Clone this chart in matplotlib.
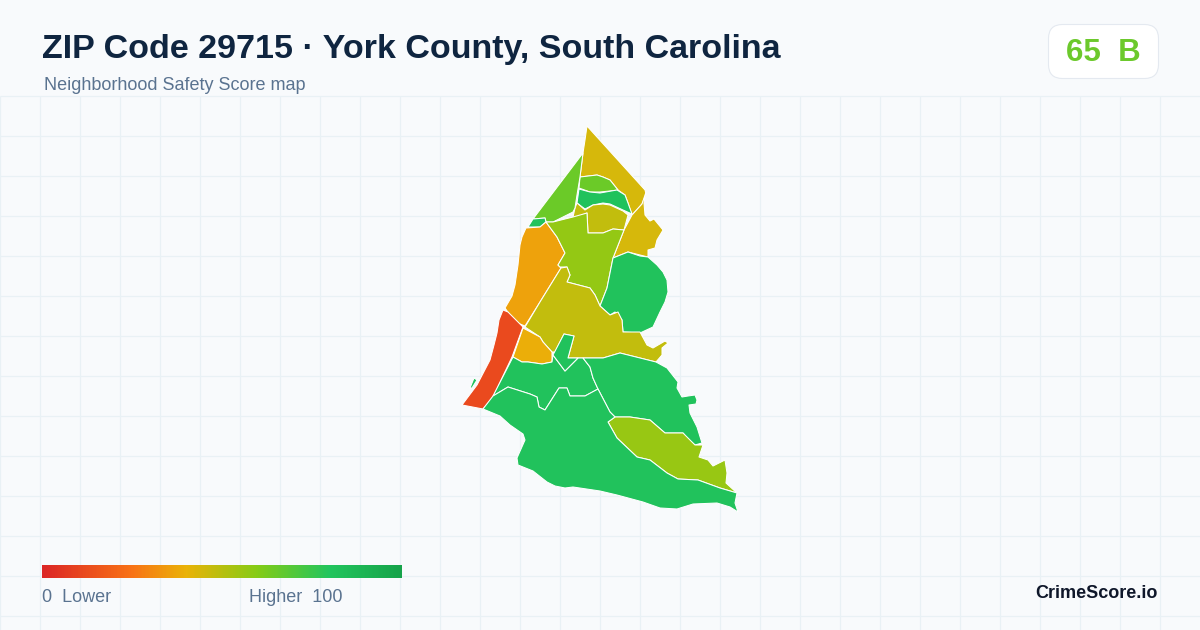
import numpy as np
import matplotlib
matplotlib.use("Agg")
import matplotlib.pyplot as plt
from matplotlib.colors import LinearSegmentedColormap
from matplotlib.patches import FancyBboxPatch, Polygon

plt.rcParams["font.family"] = ["Liberation Sans", "DejaVu Sans"]

TITLE = "ZIP Code 29715 · York County, South Carolina"
SUBTITLE = "Neighborhood Safety Score map"
GRADE = "65  B"

# neighbourhoods (x, y in image pixels) with their scores
top_gold = [(587,126),(645,190),(646,194),(642,204),(632,215),(628,203),(625,195),(618,190),(610,180),(603,177),(597,175),(580,177),(583,153),(585,140)]
north_lime = [(580,177),(597,175),(603,177),(610,180),(618,190),(610,191),(600,192),(590,192),(579,188)]
north_green = [(579,189),(590,192),(600,193),(617,190),(625,195),(628,203),(632,214),(623,210),(610,204),(603,203),(593,205),(585,209),(577,203)]
center_olive = [(585,210),(593,205),(603,204),(610,205),(623,211),(628,215),(624,230),(613,229),(603,233),(588,233),(587,213),(575,218),(573,217),(575,208),(577,203)]
east_gold = [(646,192),(644,203),(645,215),(650,221),(654,219),(663,230),(657,240),(655,248),(648,250),(648,257),(640,255),(628,252),(613,258),(624,230),(632,215),(642,204)]
west_green = [(583,153),(580,177),(577,195),(575,208),(573,212),(553,222),(546,222),(545,218),(533,219)]
sliver_green = [(533,219),(545,218),(546,222),(540,227),(528,227)]
west_orange = [(526,228),(540,227),(546,222),(557,237),(565,253),(558,265),(561,268),(540,302),(525,326),(515,322),(505,308),(512,296),(515,285),(518,265),(520,245),(522,237)]
mid_lime = [(546,222),(553,222),(573,217),(587,213),(588,233),(603,233),(613,229),(624,230),(613,258),(607,288),(600,306),(595,295),(590,288),(567,282),(570,275),(567,267),(560,267),(558,265),(565,253),(557,237)]
east_green = [(613,258),(628,252),(640,256),(648,257),(657,265),(663,272),(667,280),(668,292),(665,302),(660,312),(653,327),(640,333),(623,332),(622,320),(615,312),(610,315),(600,306),(607,288)]
big_olive = [(561,268),(567,267),(570,275),(567,282),(590,288),(595,295),(600,306),(610,315),(618,312),(622,320),(623,332),(640,332),(647,345),(653,348),(665,341),(668,343),(662,348),(662,355),(656,362),(640,358),(620,353),(603,358),(568,358),(574,336),(564,334),(555,352),(552,352),(543,342),(540,337),(525,327),(540,302)]
west_red = [(503,310),(508,312),(523,327),(512,357),(493,397),(483,409),(462,405),(477,385),(490,360),(494,345),(497,333),(499,320)]
islet_green = [(470,388),(474,378),(477,380),(472,388)]
south_amber = [(523,328),(540,337),(543,342),(552,352),(552,362),(542,364),(528,362),(522,362),(513,357)]
mid_green = [(513,357),(522,362),(528,362),(542,364),(552,362),(553,355),(565,371),(578,358),(583,358),(590,367),(593,378),(598,389),(585,396),(570,396),(567,388),(559,388),(545,410),(539,407),(537,397),(530,394),(508,387),(493,396)]
finger_green = [(553,355),(564,334),(574,336),(568,358),(578,358),(565,371)]
south_east_green = [(583,358),(603,358),(620,353),(640,358),(656,362),(667,368),(678,382),(677,388),(682,397),(688,396),(695,395),(697,400),(696,404),(689,405),(690,413),(697,427),(702,443),(695,445),(687,438),(683,433),(665,433),(650,420),(630,417),(615,417),(610,412),(598,389),(593,378),(590,367)]
south_lime = [(608,422),(615,417),(630,417),(650,420),(665,433),(683,433),(695,445),(703,445),(699,457),(708,460),(713,466),(725,460),(727,473),(726,483),(737,493),(720,488),(698,480),(678,479),(667,473),(650,460),(637,457),(617,438)]
south_green = [(483,409),(493,396),(508,387),(530,394),(537,397),(539,407),(545,410),(559,388),(567,388),(570,396),(585,396),(598,389),(610,412),(615,417),(608,422),(617,438),(637,457),(650,460),(667,473),(678,479),(698,480),(720,488),(737,493),(735,503),(738,512),(730,507),(717,503),(693,504),(677,509),(660,508),(643,502),(617,495),(600,491),(573,487),(565,488),(555,486),(547,482),(533,471),(518,465),(517,458),(521,449),(525,440),(523,434),(510,425),(500,416)]

areas = [top_gold, north_lime, north_green, center_olive, east_gold, west_green, sliver_green,
         west_orange, mid_lime, east_green, big_olive, west_red, islet_green, south_amber,
         mid_green, finger_green, south_east_green, south_lime, south_green]
scores = [44, 65, 82, 48, 44, 65, 82, 36, 57, 82, 48, 12, 82, 39, 82, 82, 82, 56, 82]

# colour ramp of the legend
ramp_pos = [0, 0.25, 0.4, 0.6, 0.8, 1]
ramp_col = ["#dc2626", "#f97316", "#eab308", "#84cc16", "#22c55e", "#16a34a"]
cmap = LinearSegmentedColormap.from_list("safety", list(zip(ramp_pos, ramp_col)))

fig = plt.figure(figsize=(12, 6.3), dpi=100, facecolor="#f8fafc")
ax = fig.add_axes([0, 0, 1, 1])
ax.set_facecolor("#f8fafc")
ax.axis("off")

# background grid
ax.vlines(np.arange(0.4, 1200, 40), 96, 630, color="#e9f1f5", lw=0.9, zorder=1)
ax.hlines(np.arange(96.4, 630, 40), 0, 1200, color="#e9f1f5", lw=0.9, zorder=1)

# map
for area, score in zip(areas, scores):
    ax.add_patch(Polygon(area, closed=True, facecolor=cmap(score / 100), edgecolor="white",
                         lw=0.75, joinstyle="round", zorder=3))

# legend bar
ax.imshow(np.linspace(0, 1, 360)[None, :], cmap=cmap, extent=(42, 402, 578, 565),
          aspect="auto", zorder=3)
ax.set_xlim(0, 1200)
ax.set_ylim(630, 0)

# header
ax.text(42, 49.5, TITLE, fontsize=24.5, fontweight="bold", color="#0f2540", va="center", zorder=5)
ax.text(44, 86, SUBTITLE, fontsize=12.95, color="#5a7390", va="center", zorder=5)

# grade badge
ax.add_patch(FancyBboxPatch((1048.5, 24.5), 110, 54, boxstyle="round,pad=0,rounding_size=14",
                            facecolor="white", edgecolor="#e4e9f0", lw=0.8, zorder=4))
ax.text(1103, 53, GRADE, fontsize=22.5, fontweight="bold", color="#6cc92c", ha="center", va="center", zorder=5)

# legend labels
ax.text(42, 598, "0  Lower", fontsize=13, color="#5a7390", va="center", zorder=5)
ax.text(249, 598, "Higher  100", fontsize=13, color="#5a7390", va="center", zorder=5)
ax.text(1158, 594, "CrimeScore.io", fontsize=13, fontweight="bold", color="#0f172a", ha="right", va="center", zorder=5)

fig.savefig("out.png", dpi=100, facecolor=fig.get_facecolor())
